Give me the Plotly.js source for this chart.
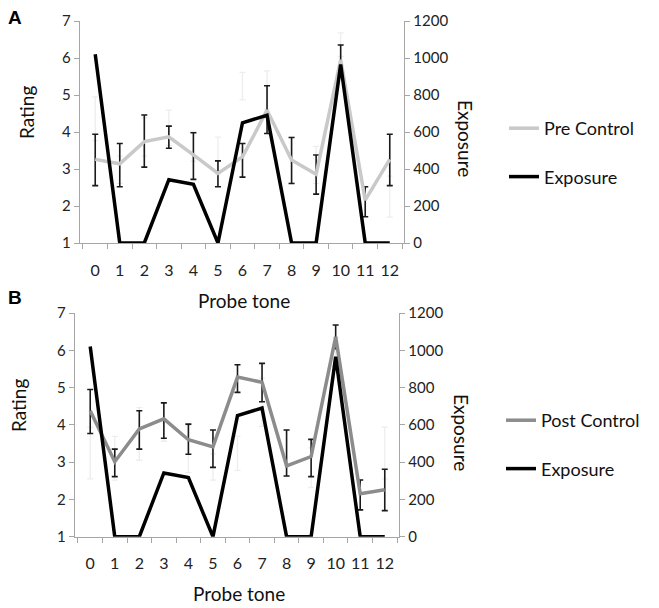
<!DOCTYPE html>
<html>
<head>
<meta charset="utf-8">
<script src="https://cdn.plot.ly/plotly-3.0.1.min.js"></script>
<style>html,body{margin:0;padding:0;background:#fff}#chart{width:659px;height:608px}</style>
</head>
<body>
<div id="chart"></div>
<script>
var probeTones = ["0","1","2","3","4","5","6","7","8","9","10","11","12"];
var exposure = [1020,0,0,342,317,0,650,690,0,0,965,0,0];

var preControl = [3.26,3.14,3.74,3.87,3.38,2.88,3.33,4.59,3.24,2.86,5.95,2.16,3.26];
var preLow     = [2.55,2.52,3.05,3.56,2.72,2.52,2.78,3.96,2.61,2.32,5.55,1.71,2.55];
var preHigh    = [3.94,3.69,4.46,4.16,3.98,3.22,3.69,5.25,3.85,3.38,6.35,2.52,3.94];

var postControl = [4.38,3.01,3.89,4.16,3.60,3.41,5.28,5.14,2.90,3.15,6.36,2.15,2.26];
var postLow     = [3.77,2.61,3.35,3.64,3.21,2.86,4.87,4.62,2.63,2.61,6.04,1.72,1.70];
var postHigh    = [4.95,3.35,4.38,4.59,4.02,3.86,5.61,5.65,3.86,3.61,6.68,2.52,2.81];

function diff(a,b){return a.map(function(v,i){return v-b[i];});}
function mid(a,b){return a.map(function(v,i){return (v+b[i])/2;});}
function half(a,b){return a.map(function(v,i){return (b[i]-v)/2;});}

var FONT = "Lato, 'Open Sans', sans-serif";
var W = 659, H = 608;
function px(x){return x/W;}
function py(y){return 1 - y/H;}

var errBlack = {color:'#1a1a1a', thickness:1.6, width:3};
var errGhost = {color:'#ededed', thickness:1.3, width:3};

var traces = [
  // Panel A
  {x:probeTones, y:mid(postLow,postHigh), xaxis:'x', yaxis:'y', mode:'markers',
   marker:{color:'rgba(0,0,0,0)', size:1}, showlegend:false, hoverinfo:'skip',
   error_y:Object.assign({type:'data', array:half(postLow,postHigh), visible:true}, errGhost)},
  {x:probeTones, y:preControl, xaxis:'x', yaxis:'y', mode:'lines', name:'Pre Control',
   line:{color:'#c9c9c9', width:3.5}, legend:'legend', legendgroup:'a1',
   error_y:Object.assign({type:'data', symmetric:false, array:diff(preHigh,preControl), arrayminus:diff(preControl,preLow), visible:true}, errBlack)},
  {x:probeTones, y:exposure, xaxis:'x', yaxis:'y2', mode:'lines', name:'Exposure',
   line:{color:'#000000', width:3.5}, legend:'legend', legendgroup:'a2'},
  // Panel B
  {x:probeTones, y:mid(preLow,preHigh), xaxis:'x2', yaxis:'y3', mode:'markers',
   marker:{color:'rgba(0,0,0,0)', size:1}, showlegend:false, hoverinfo:'skip',
   error_y:Object.assign({type:'data', array:half(preLow,preHigh), visible:true}, errGhost)},
  {x:probeTones, y:postControl, xaxis:'x2', yaxis:'y3', mode:'lines', name:'Post Control',
   line:{color:'#8c8c8c', width:3.5}, legend:'legend2', legendgroup:'b1',
   error_y:Object.assign({type:'data', symmetric:false, array:diff(postHigh,postControl), arrayminus:diff(postControl,postLow), visible:true}, errBlack)},
  {x:probeTones, y:exposure, xaxis:'x2', yaxis:'y4', mode:'lines', name:'Exposure',
   line:{color:'#000000', width:3.5}, legend:'legend2', legendgroup:'b2'}
];

var axisLine = '#a6a6a6';
var tickFont = {family:FONT, size:15, color:'#222'};
function xAxis(domain, anchor){
  return {domain:domain, anchor:anchor, type:'category', range:[-0.62,12.58],
    showgrid:false, zeroline:false, showline:true, linecolor:axisLine, linewidth:1.3,
    ticks:'outside', tickson:'boundaries', ticklen:5, tickcolor:axisLine, tickwidth:1,
    tickangle:0, ticklabelstandoff:12, tickfont:{family:FONT, size:16, color:'#222'}, fixedrange:true};
}
function yLeft(domain, anchor){
  return {domain:domain, anchor:anchor, range:[1,7], dtick:1, tick0:1,
    showgrid:false, zeroline:false, showline:true, linecolor:axisLine, linewidth:1.3,
    ticks:'outside', ticklen:5, tickcolor:axisLine, tickfont:tickFont, fixedrange:true};
}
function yRight(overlay, anchor){
  return {overlaying:overlay, anchor:anchor, side:'right', range:[0,1200], dtick:200, tick0:0,
    showgrid:false, zeroline:false, showline:true, linecolor:axisLine, linewidth:1.3,
    ticks:'outside', ticklen:5, tickcolor:axisLine, tickfont:tickFont, fixedrange:true};
}

var titleFont = {family:FONT, size:19, color:'#111'};
function ann(text, x, y, angle, font){
  return {text:text, x:px(x), y:py(y), xref:'paper', yref:'paper', showarrow:false,
    xanchor:'center', yanchor:'middle', textangle:angle||0, font:font||titleFont};
}
var labelFont = {family:"'Liberation Sans', Arial, sans-serif", size:19, color:'#000'};

var legendCommon = {font:{family:FONT, size:18, color:'#111'}, bgcolor:'rgba(0,0,0,0)',
  traceorder:'grouped', tracegroupgap:22, itemwidth:30, xanchor:'left', yanchor:'top'};

var layout = {
  width:W, height:H, margin:{l:0,r:0,t:0,b:0},
  paper_bgcolor:'#fff', plot_bgcolor:'rgba(0,0,0,0)',
  font:{family:FONT, color:'#222'},
  xaxis: xAxis([px(80), px(404)], 'y'),
  yaxis: yLeft([py(243), py(21)], 'x'),
  yaxis2: yRight('y', 'x'),
  xaxis2: xAxis([px(75), px(399)], 'y3'),
  yaxis3: yLeft([py(536.7), py(313)], 'x2'),
  yaxis4: yRight('y3', 'x2'),
  legend: Object.assign({x:px(504), y:py(110)}, legendCommon),
  legend2: Object.assign({x:px(501), y:py(402)}, legendCommon),
  annotations:[
    ann('<b>A</b>', 15, 18, 0, labelFont),
    ann('<b>B</b>', 15, 298, 0, labelFont),
    ann('Rating', 27, 113, -90),
    ann('Rating', 18, 406, -90),
    ann('Exposure', 466, 138, 90),
    ann('Exposure', 462, 432, 90),
    ann('Probe tone', 244, 300),
    ann('Probe tone', 239, 593)
  ],
  showlegend:true
};

Plotly.newPlot('chart', traces, layout, {staticPlot:true, displayModeBar:false});
</script>
</body>
</html>
